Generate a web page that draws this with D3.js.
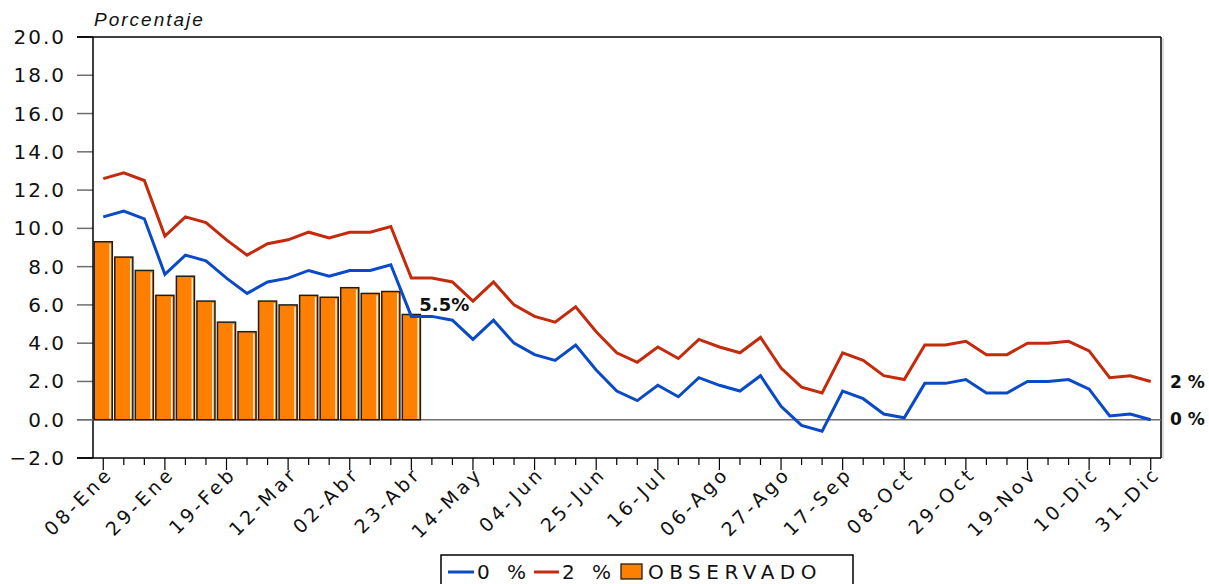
<!DOCTYPE html>
<html>
<head>
<meta charset="utf-8">
<script src="https://cdn.jsdelivr.net/npm/d3@7"></script>
<style>
  html, body { margin: 0; padding: 0; background: #fff; }
  svg { display: block; }
</style>
</head>
<body>
<svg id="chart" width="1209" height="584"></svg>
<script>
// Weekly dates (labels shown every third week)
const weeks = ["08-Ene","15-Ene","22-Ene","29-Ene","05-Feb","12-Feb","19-Feb","26-Feb","05-Mar","12-Mar",
  "19-Mar","26-Mar","02-Abr","09-Abr","16-Abr","23-Abr","30-Abr","07-May","14-May","21-May",
  "28-May","04-Jun","11-Jun","18-Jun","25-Jun","02-Jul","09-Jul","16-Jul","23-Jul","30-Jul",
  "06-Ago","13-Ago","20-Ago","27-Ago","03-Sep","10-Sep","17-Sep","24-Sep","01-Oct","08-Oct",
  "15-Oct","22-Oct","29-Oct","05-Nov","12-Nov","19-Nov","26-Nov","03-Dic","10-Dic","17-Dic",
  "24-Dic","31-Dic"];

// Scenario series (percent)
const scenario0 = [10.6,10.9,10.5,7.6,8.6,8.3,7.4,6.6,7.2,7.4,
  7.8,7.5,7.8,7.8,8.1,5.4,5.4,5.2,4.2,5.2,
  4.0,3.4,3.1,3.9,2.6,1.5,1.0,1.8,1.2,2.2,
  1.8,1.5,2.3,0.7,-0.3,-0.6,1.5,1.1,0.3,0.1,
  1.9,1.9,2.1,1.4,1.4,2.0,2.0,2.1,1.6,0.2,0.3,0.0];
const scenario2 = [12.6,12.9,12.5,9.6,10.6,10.3,9.4,8.6,9.2,9.4,
  9.8,9.5,9.8,9.8,10.1,7.4,7.4,7.2,6.2,7.2,
  6.0,5.4,5.1,5.9,4.6,3.5,3.0,3.8,3.2,4.2,
  3.8,3.5,4.3,2.7,1.7,1.4,3.5,3.1,2.3,2.1,
  3.9,3.9,4.1,3.4,3.4,4.0,4.0,4.1,3.6,2.2,2.3,2.0];
// Observed values (first weeks only)
const observed = [9.3,8.5,7.8,6.5,7.5,6.2,5.1,4.6,6.2,6.0,6.5,6.4,6.9,6.6,6.7,5.5];

const yTicks = [-2,0,2,4,6,8,10,12,14,16,18,20];

const svg = d3.select("#chart");
const plotLeft = 93, plotRight = 1161, plotTop = 37, plotBottom = 458;

const x = d3.scaleBand().domain(weeks).range([plotLeft, plotRight]).paddingInner(0.12).paddingOuter(0.06);
const y = d3.scaleLinear().domain([-2, 20]).range([plotBottom, plotTop]);
const cx = d => x(d) + x.bandwidth() / 2;

const FONT = "'DejaVu Sans', Verdana, sans-serif";

// Y axis ticks and labels
const yAxis = svg.append("g");
yAxis.selectAll("line").data(yTicks).join("line")
  .attr("x1", 77).attr("x2", plotLeft)
  .attr("y1", d => y(d)).attr("y2", d => y(d))
  .attr("stroke", d => (d === 20 || d === -2) ? "#000" : "#6e6e6e")
  .attr("stroke-width", 1.5);
yAxis.selectAll("text").data(yTicks).join("text")
  .attr("x", 66).attr("y", d => y(d) + 7)
  .attr("text-anchor", "end")
  .attr("font-family", FONT).attr("font-size", 20)
  .attr("letter-spacing", 2).attr("fill", "#111")
  .text(d => d3.format(".1f")(d));

// Plot frame
svg.append("line").attr("x1", 77).attr("x2", plotRight).attr("y1", plotTop).attr("y2", plotTop)
  .attr("stroke", "#000").attr("stroke-width", 1.5);
svg.append("line").attr("x1", 77).attr("x2", plotRight).attr("y1", plotBottom).attr("y2", plotBottom)
  .attr("stroke", "#000").attr("stroke-width", 1.5);
svg.append("line").attr("x1", plotLeft).attr("x2", plotLeft).attr("y1", plotTop).attr("y2", plotBottom)
  .attr("stroke", "#000").attr("stroke-width", 1.5);
svg.append("line").attr("x1", plotRight).attr("x2", plotRight).attr("y1", plotTop).attr("y2", plotBottom)
  .attr("stroke", "#000").attr("stroke-width", 1.5);
svg.append("line").attr("x1", plotRight + 2).attr("x2", plotRight + 2).attr("y1", plotTop + 1).attr("y2", plotBottom)
  .attr("stroke", "#cfcfcf").attr("stroke-width", 1.5);

// Zero reference line
svg.append("line").attr("x1", 77).attr("x2", plotRight).attr("y1", y(0)).attr("y2", y(0))
  .attr("stroke", "#6e6e6e").attr("stroke-width", 1.5);

// X axis ticks (major every 3 weeks) and rotated labels
const xAxis = svg.append("g");
xAxis.selectAll("line").data(weeks).join("line")
  .attr("x1", d => cx(d)).attr("x2", d => cx(d))
  .attr("y1", plotBottom).attr("y2", (d, i) => i % 3 === 0 ? plotBottom + 12 : plotBottom + 7)
  .attr("stroke", "#000").attr("stroke-width", 1.2);
xAxis.selectAll("text").data(weeks.filter((d, i) => i % 3 === 0)).join("text")
  .attr("transform", d => `translate(${cx(d) + 11},${plotBottom + 17}) rotate(-45)`)
  .attr("text-anchor", "end")
  .attr("font-family", FONT).attr("font-size", 19)
  .attr("letter-spacing", 3.5).attr("fill", "#111")
  .text(d => d);

// Observed bars
const bars = svg.append("g");
const obs = observed.map((v, i) => ({ week: weeks[i], value: v }));
bars.selectAll("rect").data(obs).join("rect")
  .attr("x", d => x(d.week)).attr("width", x.bandwidth())
  .attr("y", d => y(d.value)).attr("height", d => y(0) - y(d.value))
  .attr("fill", "#ff8000").attr("stroke", "#1e1e1e").attr("stroke-width", 1.5);
bars.selectAll("line").data(obs).join("line")
  .attr("x1", d => x(d.week) + x.bandwidth() - 2.2).attr("x2", d => x(d.week) + x.bandwidth() - 2.2)
  .attr("y1", d => y(d.value) + 2).attr("y2", y(0) - 1)
  .attr("stroke", "#fff").attr("stroke-width", 1.3);

// Scenario lines
const line = d3.line().x((d, i) => cx(weeks[i])).y(d => y(d));
svg.append("path").datum(scenario2).attr("d", line)
  .attr("fill", "none").attr("stroke", "#c42a0c").attr("stroke-width", 3).attr("stroke-linejoin", "miter");
svg.append("path").datum(scenario0).attr("d", line)
  .attr("fill", "none").attr("stroke", "#0a4ac6").attr("stroke-width", 3).attr("stroke-linejoin", "miter");

// Value annotations
const lastObs = obs[obs.length - 1];
svg.append("text").attr("x", cx(lastObs.week) + 8).attr("y", y(lastObs.value) - 3)
  .attr("font-family", FONT).attr("font-weight", "bold").attr("font-size", 18)
  .attr("fill", "#111").text(d3.format(".1f")(lastObs.value) + "%");
svg.append("text").attr("x", 1170).attr("y", y(scenario2[scenario2.length - 1]) + 7)
  .attr("font-family", FONT).attr("font-weight", "bold").attr("font-size", 17)
  .attr("fill", "#111").text("2 %");
svg.append("text").attr("x", 1170).attr("y", y(scenario0[scenario0.length - 1]) + 5)
  .attr("font-family", FONT).attr("font-weight", "bold").attr("font-size", 17)
  .attr("fill", "#111").text("0 %");

// Axis title
svg.append("text").attr("x", 94).attr("y", 26)
  .attr("font-family", "'Liberation Sans', Arial, sans-serif").attr("font-style", "italic")
  .attr("font-size", 19).attr("letter-spacing", 2).attr("fill", "#111")
  .text("Porcentaje");

// Legend
const lg = svg.append("g");
lg.append("rect").attr("x", 441).attr("y", 555).attr("width", 412).attr("height", 40)
  .attr("fill", "#fff").attr("stroke", "#000").attr("stroke-width", 1.5);
lg.append("line").attr("x1", 448).attr("x2", 474).attr("y1", 572).attr("y2", 572)
  .attr("stroke", "#0a4ac6").attr("stroke-width", 3);
lg.append("text").attr("x", 477).attr("y", 579).text("0 %");
lg.append("line").attr("x1", 534).attr("x2", 559).attr("y1", 572).attr("y2", 572)
  .attr("stroke", "#c42a0c").attr("stroke-width", 3);
lg.append("text").attr("x", 562).attr("y", 579).text("2 %");
lg.append("rect").attr("x", 621).attr("y", 564).attr("width", 21).attr("height", 15)
  .attr("fill", "#ff8000").attr("stroke", "#1e1e1e").attr("stroke-width", 1.3);
lg.append("text").attr("x", 648).attr("y", 579).text("OBSERVADO");
lg.selectAll("text")
  .attr("font-family", FONT).attr("font-size", 20)
  .attr("letter-spacing", 5.5).attr("fill", "#111");
</script>
</body>
</html>
